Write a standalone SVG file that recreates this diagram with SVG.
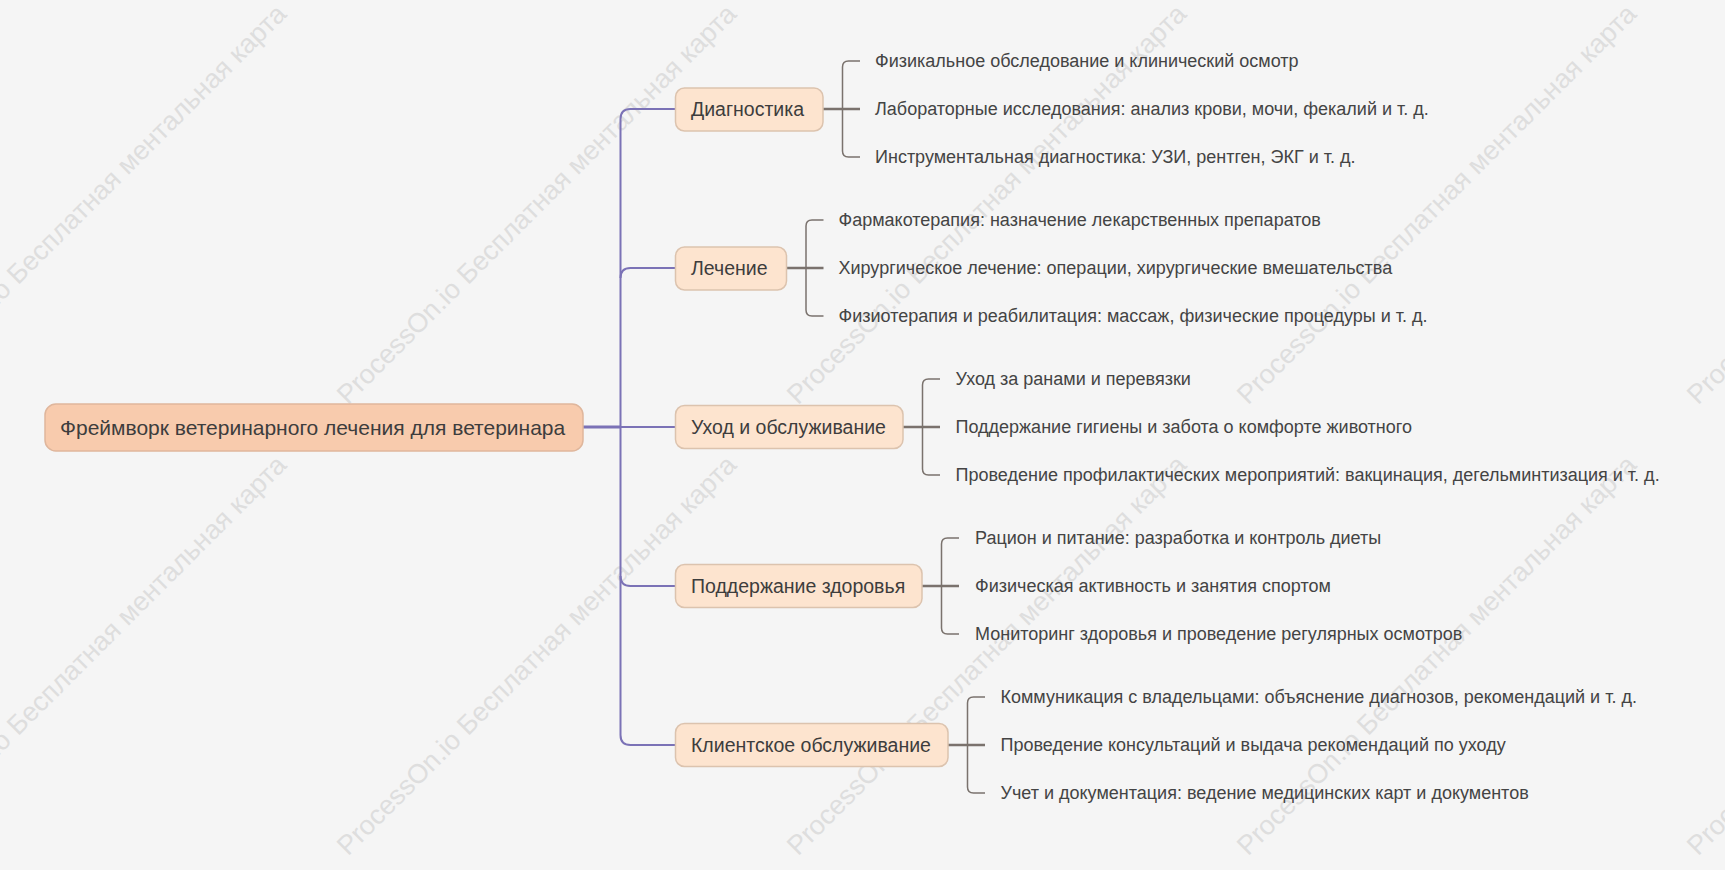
<svg xmlns="http://www.w3.org/2000/svg" width="1725" height="870" viewBox="0 0 1725 870">
<style>
.wm{font-family:"Liberation Sans",Arial,sans-serif;font-size:27px;fill:#dedede}
.root rect{fill:#f8cbad;stroke:#dfb69c;stroke-width:1.5}
.main rect{fill:#fde4cf;stroke:#dcc3ae;stroke-width:1.5}
.root text{font-family:"Liberation Sans",Arial,sans-serif;font-size:21px;fill:#3d3d3d}
.main text{font-family:"Liberation Sans",Arial,sans-serif;font-size:19.5px;fill:#3d3d3d}
.leaf text{font-family:"Liberation Sans",Arial,sans-serif;font-size:18px;fill:#444}
.trunk{fill:none;stroke:#7b72b6;stroke-width:2}
.br{fill:none;stroke:#7a726d;stroke-width:1.5}
.brc{fill:none;stroke:#7a726d;stroke-width:2.5}
</style>
<rect x="0" y="0" width="1725" height="870" fill="#f5f5f5"/>
<g id="watermarks">
<text class="wm" transform="translate(-102,405.5) rotate(-45)">ProcessOn.io Бесплатная ментальная карта</text>
<text class="wm" transform="translate(348,405.5) rotate(-45)">ProcessOn.io Бесплатная ментальная карта</text>
<text class="wm" transform="translate(798,405.5) rotate(-45)">ProcessOn.io Бесплатная ментальная карта</text>
<text class="wm" transform="translate(1248,405.5) rotate(-45)">ProcessOn.io Бесплатная ментальная карта</text>
<text class="wm" transform="translate(1698,405.5) rotate(-45)">ProcessOn.io Бесплатная ментальная карта</text>
<text class="wm" transform="translate(-102,856.5) rotate(-45)">ProcessOn.io Бесплатная ментальная карта</text>
<text class="wm" transform="translate(348,856.5) rotate(-45)">ProcessOn.io Бесплатная ментальная карта</text>
<text class="wm" transform="translate(798,856.5) rotate(-45)">ProcessOn.io Бесплатная ментальная карта</text>
<text class="wm" transform="translate(1248,856.5) rotate(-45)">ProcessOn.io Бесплатная ментальная карта</text>
<text class="wm" transform="translate(1698,856.5) rotate(-45)">ProcessOn.io Бесплатная ментальная карта</text>
</g>
<g id="connectors">
<path class="trunk" d="M675.5,109 H630.5 Q620.5,109 620.5,119 V735 Q620.5,745 630.5,745 H675.5"/>
<path class="trunk" d="M620.5,278 Q620.5,268 630.5,268 H675.5"/>
<path class="trunk" d="M620.5,576 Q620.5,586 630.5,586 H675.5"/>
<path class="trunk" d="M620.5,427 H675.5"/>
<path class="trunk" style="stroke-width:3" d="M583,427 H620.5"/>
<path class="brc" d="M823,109 H860"/>
<path class="br" d="M860,61 H848.5 Q842.5,61 842.5,67 V151 Q842.5,157 848.5,157 H860"/>
<path class="brc" d="M786.5,268 H823.5"/>
<path class="br" d="M823.5,220 H812 Q806,220 806,226 V310 Q806,316 812,316 H823.5"/>
<path class="brc" d="M903,427 H940"/>
<path class="br" d="M940,379 H928.5 Q922.5,379 922.5,385 V469 Q922.5,475 928.5,475 H940"/>
<path class="brc" d="M922,586 H959"/>
<path class="br" d="M959,538 H947.5 Q941.5,538 941.5,544 V628 Q941.5,634 947.5,634 H959"/>
<path class="brc" d="M948,745 H985"/>
<path class="br" d="M985,697 H973.5 Q967.5,697 967.5,703 V787 Q967.5,793 973.5,793 H985"/>
</g>
<g id="root" class="root">
<rect x="45" y="404" width="538" height="47" rx="11"/>
<text x="60" y="434.5">Фреймворк ветеринарного лечения для ветеринара</text>
</g>
<g id="n1" class="main">
<rect x="675.5" y="88" width="147.5" height="43" rx="9"/>
<text x="691" y="116">Диагностика</text>
</g>
<g id="n2" class="main">
<rect x="675.5" y="247" width="111" height="43" rx="9"/>
<text x="691" y="275">Лечение</text>
</g>
<g id="n3" class="main">
<rect x="675.5" y="405.5" width="227.5" height="43" rx="9"/>
<text x="691" y="434">Уход и обслуживание</text>
</g>
<g id="n4" class="main">
<rect x="675.5" y="564.5" width="246.5" height="43" rx="9"/>
<text x="691" y="593">Поддержание здоровья</text>
</g>
<g id="n5" class="main">
<rect x="675.5" y="723.5" width="272.5" height="43" rx="9"/>
<text x="691" y="752">Клиентское обслуживание</text>
</g>
<g id="leaves1" class="leaf">
<text x="875" y="67">Физикальное обследование и клинический осмотр</text>
<text x="875" y="115">Лабораторные исследования: анализ крови, мочи, фекалий и т. д.</text>
<text x="875" y="163">Инструментальная диагностика: УЗИ, рентген, ЭКГ и т. д.</text>
</g>
<g id="leaves2" class="leaf">
<text x="838.5" y="226">Фармакотерапия: назначение лекарственных препаратов</text>
<text x="838.5" y="274">Хирургическое лечение: операции, хирургические вмешательства</text>
<text x="838.5" y="322">Физиотерапия и реабилитация: массаж, физические процедуры и т. д.</text>
</g>
<g id="leaves3" class="leaf">
<text x="955.5" y="385">Уход за ранами и перевязки</text>
<text x="955.5" y="433">Поддержание гигиены и забота о комфорте животного</text>
<text x="955.5" y="481">Проведение профилактических мероприятий: вакцинация, дегельминтизация и т. д.</text>
</g>
<g id="leaves4" class="leaf">
<text x="975" y="544">Рацион и питание: разработка и контроль диеты</text>
<text x="975" y="592">Физическая активность и занятия спортом</text>
<text x="975" y="640">Мониторинг здоровья и проведение регулярных осмотров</text>
</g>
<g id="leaves5" class="leaf">
<text x="1000.5" y="703">Коммуникация с владельцами: объяснение диагнозов, рекомендаций и т. д.</text>
<text x="1000.5" y="751">Проведение консультаций и выдача рекомендаций по уходу</text>
<text x="1000.5" y="799">Учет и документация: ведение медицинских карт и документов</text>
</g>
</svg>
